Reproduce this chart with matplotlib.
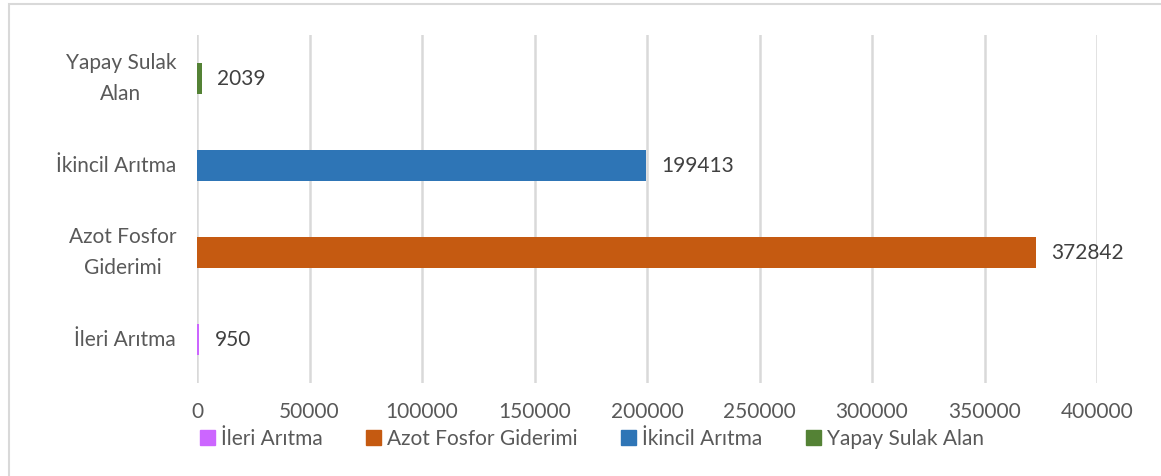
import matplotlib
matplotlib.use("Agg")
import matplotlib.pyplot as plt
from matplotlib.patches import Rectangle

plt.rcParams['font.family'] = ['Lato', 'DejaVu Sans']

categories = ["İleri Arıtma", "Azot Fosfor Giderimi", "İkincil Arıtma", "Yapay Sulak Alan"]
ylabels = ["İleri Arıtma", "Azot Fosfor\nGiderimi", "İkincil Arıtma", "Yapay Sulak\nAlan"]
values = [950, 372842, 199413, 2039]
colors = ["#CC66FF", "#C55A11", "#2E75B6", "#548235"]
xticks = [0, 50000, 100000, 150000, 200000, 250000, 300000, 350000, 400000]

W, H = 1161, 476
fs = 15
fig = plt.figure(figsize=(W/100, H/100), dpi=100)
ax = fig.add_axes([197/W, 1-383/H, (1097-197)/W, (383-35)/H])

ypos = list(range(len(categories)))
ax.barh(ypos, values, height=0.36, color=colors, zorder=3)
for y, v in zip(ypos, values):
    ax.text(v + 7000, y, str(v), va='center', ha='left', fontsize=fs, color='#404040')

ax.set_xlim(0, 400000)
ax.set_ylim(-0.5, 3.5)
ax.set_xticks(xticks)
ax.set_xticklabels([str(t) for t in xticks], fontsize=fs, color='#595959')
ax.set_yticks(ypos)
ax.set_yticklabels(ylabels, fontsize=fs, color='#595959', linespacing=1.65,
                   multialignment='center')
for lab in ax.get_yticklabels():
    lab.set_va('center')
ax.tick_params(axis='both', length=0)
ax.tick_params(axis='x', pad=14)
ax.tick_params(axis='y', pad=15)
ax.grid(axis='x', color='#D9D9D9', linewidth=1.8, zorder=0)
for s in ax.spines.values():
    s.set_visible(False)

handles = [Rectangle((0, 0), 1, 1, color=c) for c in colors]
fig.legend(handles, categories, loc='center', bbox_to_anchor=(592/W, 1-439/H),
           ncol=4, frameon=False, fontsize=fs, handlelength=0.7, handleheight=0.7,
           handletextpad=0.3, columnspacing=2.1, labelcolor='#595959')

fig.add_artist(Rectangle((9/W, -0.05), 1.1, 1 - 4/H + 0.05, transform=fig.transFigure,
                         fill=False, edgecolor='#D9D9D9', linewidth=1.5))

fig.savefig("out.png", dpi=100)
